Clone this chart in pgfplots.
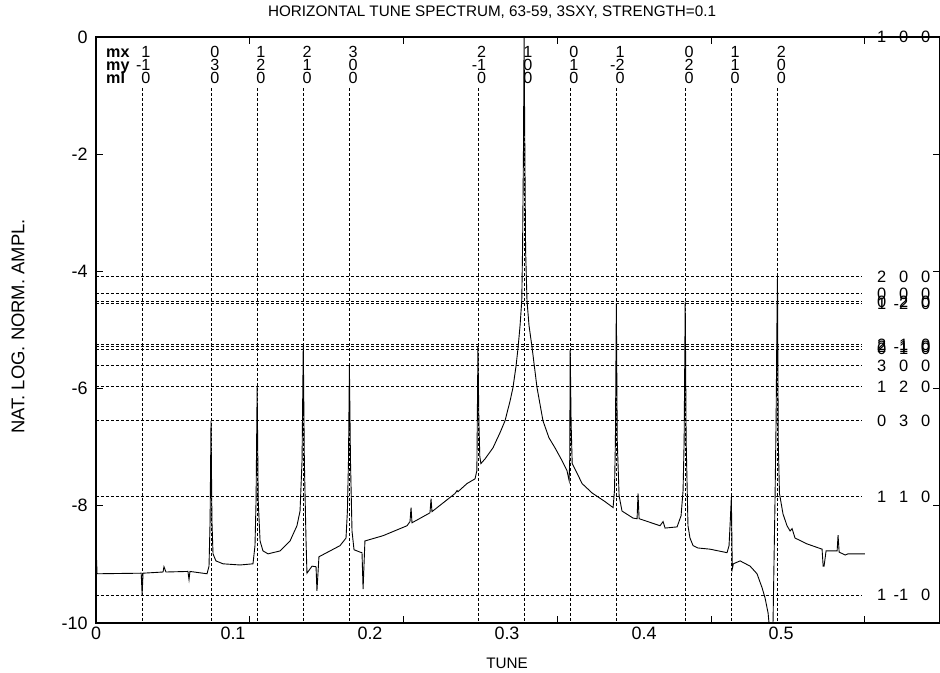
\documentclass[border=0pt]{standalone}
\usepackage{fontspec}
\setmainfont{Liberation Sans}
\usepackage{pgfplots}
\pgfplotsset{compat=1.18}
\newcommand{\lf}{\fontsize{16.5}{16.5}\selectfont}
\newcommand{\rowf}{\fontsize{16.2}{16.2}\selectfont}
\newcommand{\tf}{\fontsize{15.3}{15.3}\selectfont}
\newcommand{\res}[4]{%
  \node[anchor=base east,inner sep=0pt,font=\rowf] at (axis cs:#1,-0.342) {#2};
  \node[anchor=base east,inner sep=0pt,font=\rowf] at (axis cs:#1,-0.564) {#3};
  \node[anchor=base east,inner sep=0pt,font=\rowf] at (axis cs:#1,-0.786) {#4};}
\newcommand{\rl}[4]{%
  \node[anchor=west,inner sep=0pt,font=\lf] at (axis cs:0.4995,#1) {\makebox[22bp][r]{#2}\makebox[22bp][r]{#3}\makebox[22bp][r]{#4}};}
\begin{document}
\begin{tikzpicture}
\begin{axis}[
  name=ax, scale only axis, width=844bp, height=586bp,
  xmin=0, xmax=0.5489, ymin=-10, ymax=0,
  xtick={0.1,0.2,0.3,0.4,0.5}, xticklabels={},
  extra x ticks={0,0.0891,0.1782,0.2673,0.3564,0.4455},
  extra x tick labels={0,0.1,0.2,0.3,0.4,0.5},
  extra x tick style={major tick length=0pt},
  ytick={-10,-8,-6,-4,-2,0},
  yticklabels={-10,-8,-6,-4,-2,0},
  tick align=inside, major tick length=7bp,
  tick style={line width=0.9bp,black},
  axis line style={line width=1.1bp},
  ticklabel style={font=\fontsize{18}{18}\selectfont},
  yticklabel style={xshift=-5bp},
  clip mode=individual,
  every axis plot/.append style={line width=0.9bp},
]
% horizontal dashed lines
\pgfplotsinvokeforeach{-4.085,-4.376,-4.513,-4.547,-5.248,-5.282,-5.325,-5.607,-5.966,-6.547,-7.846,-9.521}{
  \addplot[black,line width=0.7bp,dash pattern=on 2.6bp off 2.4bp,forget plot] coordinates {(0,#1) (0.498,#1)};
}
% vertical dashed lines
\pgfplotsinvokeforeach{0.0300,0.0748,0.1048,0.1348,0.1648,0.2484,0.2784,0.3084,0.3384,0.3832,0.4132,0.4432}{
  \addplot[black,line width=0.7bp,dash pattern=on 2.6bp off 2.4bp,forget plot] coordinates {(#1,-0.87) (#1,-10)};
}
% spectrum
\addplot[black,line width=0.9bp] coordinates {
(0,-8.68) (0.0007,-9.16) (0.0294,-9.15) (0.0300,-9.52) (0.0306,-9.15)
(0.0436,-9.13) (0.0442,-9.04) (0.0455,-9.13) (0.0598,-9.12) (0.0605,-9.26) (0.0611,-9.12)
(0.0722,-9.16) (0.0735,-9.03) (0.0742,-8.26) (0.0748,-6.55) (0.0754,-8.26) (0.0761,-8.82)
(0.0780,-8.94) (0.0826,-8.99) (0.0937,-9.01) (0.1021,-8.99) (0.1034,-8.68) (0.1041,-7.91)
(0.1048,-5.97) (0.1055,-7.91) (0.1067,-8.60) (0.1086,-8.77) (0.1119,-8.82) (0.1197,-8.77)
(0.1262,-8.60) (0.1307,-8.34) (0.1327,-8.09) (0.1340,-7.23) (0.1348,-5.25) (0.1355,-7.23)
(0.1366,-8.60) (0.1372,-9.15) (0.1405,-9.03) (0.1431,-9.04) (0.1437,-9.45) (0.1450,-8.87)
(0.1522,-8.77) (0.1587,-8.68) (0.1626,-8.55) (0.1635,-8.09) (0.1642,-7.23) (0.1648,-5.61)
(0.1655,-7.23) (0.1665,-8.43) (0.1678,-8.75) (0.1717,-8.79) (0.1730,-8.80) (0.1737,-9.42)
(0.1749,-8.60) (0.1867,-8.51) (0.2023,-8.34) (0.2042,-8.27) (0.2049,-8.03) (0.2055,-8.29)
(0.2172,-8.12) (0.2179,-7.88) (0.2185,-8.10) (0.2335,-7.79) (0.2348,-7.74) (0.2354,-7.76)
(0.2413,-7.62) (0.2465,-7.54) (0.2477,-7.40) (0.2484,-5.28) (0.2490,-6.55) (0.2496,-7.15)
(0.2503,-7.28) (0.2530,-7.20) (0.2582,-7.01) (0.2628,-6.75) (0.2660,-6.55) (0.2693,-6.21)
(0.2712,-5.98) (0.2732,-5.61) (0.2745,-5.30) (0.2758,-4.92) (0.2769,-4.50) (0.2774,-3.64)
(0.2780,-1.93) (0.2784,0) (0.2789,-1.93) (0.2794,-3.64) (0.2803,-4.50) (0.2816,-4.92)
(0.2836,-5.30) (0.2868,-5.98) (0.2907,-6.55) (0.2946,-6.84) (0.2985,-7.01) (0.3031,-7.23)
(0.3063,-7.40) (0.3077,-7.57) (0.3081,-7.20) (0.3084,-5.33) (0.3090,-6.60) (0.3097,-7.28)
(0.3128,-7.44) (0.3161,-7.62) (0.3226,-7.78) (0.3311,-7.93) (0.3363,-8.03) (0.3372,-7.74)
(0.3378,-6.89) (0.3384,-4.55) (0.3390,-6.89) (0.3402,-7.83) (0.3421,-8.09) (0.3493,-8.21)
(0.3519,-8.22) (0.3525,-7.79) (0.3532,-8.22) (0.3668,-8.34) (0.3688,-8.27) (0.3701,-8.38)
(0.3779,-8.36) (0.3805,-8.17) (0.3818,-7.74) (0.3825,-6.89) (0.3832,-4.51) (0.3838,-6.89)
(0.3850,-8.34) (0.3863,-8.55) (0.3883,-8.68) (0.3915,-8.72) (0.3993,-8.74) (0.4104,-8.80)
(0.4117,-8.68) (0.4125,-8.26) (0.4132,-7.85) (0.4138,-9.08) (0.4145,-8.99) (0.4189,-8.94)
(0.4254,-9.03) (0.4299,-9.16) (0.4332,-9.40) (0.4351,-9.57) (0.4371,-9.83) (0.4377,-10)
(0.4403,-10) (0.4416,-7.91) (0.4423,-6.55) (0.4428,-5.01) (0.4432,-4.09) (0.4437,-6.89)
(0.4445,-7.79) (0.4468,-8.14) (0.4494,-8.34) (0.4514,-8.43) (0.4527,-8.39) (0.4546,-8.55)
(0.4624,-8.65) (0.4722,-8.74) (0.4729,-9.03) (0.4735,-9.03) (0.4748,-8.77) (0.4820,-8.77)
(0.4826,-8.50) (0.4833,-8.79) (0.4872,-8.84) (0.4891,-8.82) (0.5000,-8.82)
};
% top resonance labels
\node[anchor=base west,inner sep=0pt,font=\rowf\bfseries] at (axis cs:0.0065,-0.342) {mx};
\node[anchor=base west,inner sep=0pt,font=\rowf\bfseries] at (axis cs:0.0065,-0.564) {my};
\node[anchor=base west,inner sep=0pt,font=\rowf\bfseries] at (axis cs:0.0065,-0.786) {ml};
\res{0.0355}{1}{-1}{0}
\res{0.0803}{0}{3}{0}
\res{0.1103}{1}{2}{0}
\res{0.1403}{2}{1}{0}
\res{0.1703}{3}{0}{0}
\res{0.2539}{2}{-1}{0}
\res{0.2839}{1}{0}{0}
\res{0.3139}{0}{1}{0}
\res{0.3439}{1}{-2}{0}
\res{0.3887}{0}{2}{0}
\res{0.4187}{1}{1}{0}
\res{0.4487}{2}{0}{0}
% right labels
\rl{0}{1}{0}{0}
\rl{-4.085}{2}{0}{0}
\rl{-4.376}{0}{0}{0}
\rl{-4.513}{0}{2}{0}
\rl{-4.547}{1}{-2}{0}
\rl{-5.248}{2}{1}{0}
\rl{-5.282}{2}{-1}{0}
\rl{-5.325}{0}{1}{0}
\rl{-5.607}{3}{0}{0}
\rl{-5.966}{1}{2}{0}
\rl{-6.547}{0}{3}{0}
\rl{-7.846}{1}{1}{0}
\rl{-9.521}{1}{-1}{0}
\node[font=\tf] at (axis cs:0.2576,0.427) {HORIZONTAL TUNE SPECTRUM, 63-59, 3SXY, STRENGTH=0.1};
\node[font=\tf] at (axis cs:0.2673,-10.684) {TUNE};
\node[font=\fontsize{18.5}{18.5}\selectfont,rotate=90] at (axis cs:-0.0507,-4.94) {NAT. LOG. NORM. AMPL.};
\end{axis}
\pgfresetboundingbox
\path[use as bounding box] ([shift={(-96bp,-50bp)}]ax.south west) rectangle ++(940bp,673bp);
\end{tikzpicture}
\end{document}
